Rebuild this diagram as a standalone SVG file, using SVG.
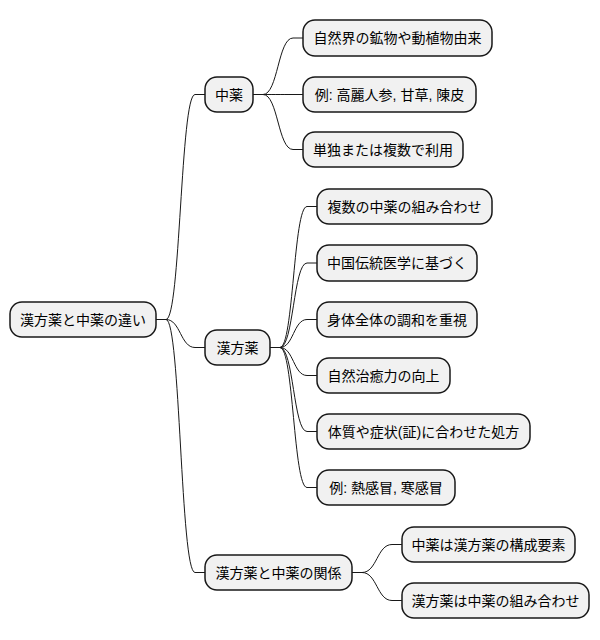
<svg xmlns="http://www.w3.org/2000/svg" width="600" height="640" viewBox="0 0 600 640">
<style>
.n rect{fill:#F1F1F1;stroke:#181818;stroke-width:1.5}
.n text{font-family:"Liberation Sans","Noto Sans CJK JP",sans-serif;font-size:14px;fill:#000;text-anchor:middle}
#connectors path{fill:none;stroke:#181818;stroke-width:1}
</style>
<rect width="600" height="640" fill="#fff"/>
<g id="connectors">
<path d="M156,319.5 L166,319.5 C180.5,319.5 180.5,94.5 195,94.5 L205,94.5"/>
<path d="M156,319.5 L166,319.5 C180.5,319.5 180.5,347.5 195,347.5 L205,347.5"/>
<path d="M156,319.5 L166,319.5 C180.5,319.5 180.5,572.5 195,572.5 L205,572.5"/>
<path d="M253,94.5 L263,94.5 C278,94.5 278,38 293,38 L303,38"/>
<path d="M253,94.5 L263,94.5 C278,94.5 278,94.5 293,94.5 L303,94.5"/>
<path d="M253,94.5 L263,94.5 C278,94.5 278,149.5 293,149.5 L303,149.5"/>
<path d="M270,347.5 L280,347.5 C293.5,347.5 293.5,206.5 307,206.5 L317,206.5"/>
<path d="M270,347.5 L280,347.5 C293.5,347.5 293.5,263 307,263 L317,263"/>
<path d="M270,347.5 L280,347.5 C293.5,347.5 293.5,319.5 307,319.5 L317,319.5"/>
<path d="M270,347.5 L280,347.5 C293.5,347.5 293.5,375.5 307,375.5 L317,375.5"/>
<path d="M270,347.5 L280,347.5 C293.5,347.5 293.5,431.5 307,431.5 L317,431.5"/>
<path d="M270,347.5 L280,347.5 C293.5,347.5 293.5,487.5 307,487.5 L317,487.5"/>
<path d="M352,572.5 L362,572.5 C377,572.5 377,544.5 392,544.5 L402,544.5"/>
<path d="M352,572.5 L362,572.5 C377,572.5 377,600.5 392,600.5 L402,600.5"/>
</g>
<g id="root" class="n"><rect x="10" y="302" width="146" height="35" rx="12"/><text x="83" y="324.5">漢方薬と中薬の違い</text></g>
<g id="chuyaku" class="n"><rect x="205" y="77" width="48" height="35" rx="12"/><text x="229" y="99.5">中薬</text></g>
<g id="c1" class="n"><rect x="303" y="20" width="189" height="36" rx="12"/><text x="397.5" y="43">自然界の鉱物や動植物由来</text></g>
<g id="c2" class="n"><rect x="303" y="77" width="173" height="35" rx="12"/><text x="389.5" y="99.5">例: 高麗人参, 甘草, 陳皮</text></g>
<g id="c3" class="n"><rect x="303" y="132" width="160" height="35" rx="12"/><text x="383" y="154.5">単独または複数で利用</text></g>
<g id="kampo" class="n"><rect x="205" y="330" width="65" height="35" rx="12"/><text x="237.5" y="352.5">漢方薬</text></g>
<g id="k1" class="n"><rect x="317" y="189" width="175" height="35" rx="12"/><text x="404.5" y="211.5">複数の中薬の組み合わせ</text></g>
<g id="k2" class="n"><rect x="317" y="245" width="160" height="36" rx="12"/><text x="397" y="268">中国伝統医学に基づく</text></g>
<g id="k3" class="n"><rect x="317" y="302" width="160" height="35" rx="12"/><text x="397" y="324.5">身体全体の調和を重視</text></g>
<g id="k4" class="n"><rect x="317" y="358" width="133" height="35" rx="12"/><text x="383.5" y="380.5">自然治癒力の向上</text></g>
<g id="k5" class="n"><rect x="317" y="414" width="213" height="35" rx="12"/><text x="423.5" y="436.5">体質や症状(証)に合わせた処方</text></g>
<g id="k6" class="n"><rect x="317" y="470" width="138" height="35" rx="12"/><text x="386" y="492.5">例: 熱感冒, 寒感冒</text></g>
<g id="rel" class="n"><rect x="205" y="555" width="147" height="35" rx="12"/><text x="278.5" y="577.5">漢方薬と中薬の関係</text></g>
<g id="r1" class="n"><rect x="402" y="527" width="173" height="35" rx="12"/><text x="488.5" y="549.5">中薬は漢方薬の構成要素</text></g>
<g id="r2" class="n"><rect x="402" y="583" width="187" height="35" rx="12"/><text x="495.5" y="605.5">漢方薬は中薬の組み合わせ</text></g>
</svg>
